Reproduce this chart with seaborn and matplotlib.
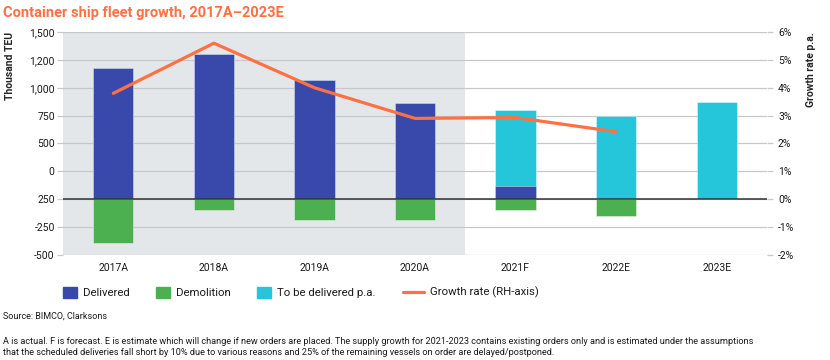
import numpy as np
import seaborn as sns
import matplotlib.pyplot as plt
from matplotlib.patches import Patch
from matplotlib.lines import Line2D

# data (thousand TEU / % p.a.)
years = ['2017A', '2018A', '2019A', '2020A', '2021F', '2022E', '2023E']
delivered = [1180, 1300, 1070, 865, 120, 0, 0]
to_be_delivered = [0, 0, 0, 0, 680, 745, 870]
demolition = [-395, -100, -190, -190, -100, -150, 0]
growth_years = ['2017A', '2018A', '2019A', '2020A', '2021F', '2022E']
growth = [3.8, 5.6, 4.0, 2.9, 2.93, 2.42]

left_ticks = [-500, -250, 0, 250, 500, 750, 1000, 1250, 1500]
# labels exactly as printed on the original chart
left_labels = ['-500', '-250', '250', '0', '500', '750', '1,000', '1,200', '1,500']
right_ticks = [-2, -1, 0, 1, 2, 3, 4, 5, 6]

c_deliv = '#3949AB'
c_demo = '#4CAF50'
c_tbd = '#26C6DA'
c_line = '#FF7043'
c_shade = '#E3E7EA'
c_grid = '#C8C8C8'

sns.set_theme(style='white')
plt.rcParams['font.family'] = ['Roboto', 'DejaVu Sans']
plt.rcParams['text.color'] = '#1a1a1a'

fig = plt.figure(figsize=(8.3, 3.6), dpi=100)
ax = fig.add_axes([0.076, 0.292, 0.848, 0.619])

# actual period shading
ax.axvspan(-0.5, 3.5, color=c_shade, zorder=0, lw=0)

totals = [d + t for d, t in zip(delivered, to_be_delivered)]
bar_kw = dict(width=0.4, edgecolor=(1, 1, 1, 0.4), linewidth=0.7, zorder=2)
sns.barplot(x=years, y=totals, color=c_tbd, ax=ax, saturation=1, **bar_kw)
sns.barplot(x=years, y=delivered, color=c_deliv, ax=ax, saturation=1, **bar_kw)
sns.barplot(x=years, y=demolition, color=c_demo, ax=ax, saturation=1, **bar_kw)

ax.set_xlim(-0.5, 6.5)
ax.set_ylim(-500, 1500)
ax.set_yticks(left_ticks)
ax.set_yticklabels(left_labels)
ax.set_axisbelow(True)
ax.grid(axis='y', color=c_grid, lw=0.9, zorder=0.5)
ax.axhline(0, color='#333333', lw=1.1, zorder=3)
for s in ax.spines.values():
    s.set_visible(False)
ax.tick_params(axis='y', length=4, width=0.9, color=c_grid, labelsize=7.5, pad=2,
               labelcolor='#1a1a1a')
ax.tick_params(axis='x', length=0, labelsize=7.5, pad=6, labelcolor='#1a1a1a')
ax.set_xlabel('')
ax.set_ylabel('Thousand TEU', fontsize=7.5, fontweight='bold', labelpad=10, loc='top')

ax2 = ax.twinx()
sns.lineplot(x=np.arange(len(growth)), y=growth, color=c_line, lw=2.3, ax=ax2, zorder=4)
ax2.set_ylim(-2, 6)
ax2.set_yticks(right_ticks)
ax2.set_yticklabels([f'{v}%' for v in right_ticks])
for s in ax2.spines.values():
    s.set_visible(False)
ax2.tick_params(axis='y', length=4, width=0.9, color=c_grid, labelsize=7.5, pad=4,
                labelcolor='#1a1a1a')
ax2.set_ylabel('Growth rate p.a.', fontsize=7.5, fontweight='bold', labelpad=8, loc='top')
ax2.grid(False)
ax2.set_xlim(-0.5, 6.5)

fig.text(0.004, 0.965, 'Container ship fleet growth, 2017A\u20132023E', fontsize=10.5,
         fontweight='bold', color=c_line, va='center', ha='left')

handles = [Patch(color=c_deliv, label='Delivered'),
           Patch(color=c_demo, label='Demolition'),
           Patch(color=c_tbd, label='To be delivered p.a.')]
leg_kw = dict(loc='center left', frameon=False, fontsize=8.2, handletextpad=0.5,
              borderaxespad=0, borderpad=0)
fig.legend(handles=handles, ncol=3, bbox_to_anchor=(0.076, 0.188), handlelength=1.25,
           handleheight=1.15, columnspacing=2.3, **leg_kw)
fig.legend(handles=[Line2D([], [], color=c_line, lw=2.3, label='Growth rate (RH-axis)')],
           bbox_to_anchor=(0.486, 0.188), handlelength=1.8, **leg_kw)

fig.text(0.004, 0.122, 'Source: BIMCO, Clarksons', fontsize=6.5, va='center')
fig.text(0.004, 0.052, 'A is actual. F is forecast. E is estimate which will change if new orders are placed. '
         'The supply growth for 2021-2023 contains existing orders only and is estimated under the assumptions',
         fontsize=6.55, va='center')
fig.text(0.004, 0.02, 'that the scheduled deliveries fall short by 10% due to various reasons and 25% of the '
         'remaining vessels on order are delayed/postponed.', fontsize=6.55, va='center')

fig.savefig('out.png', dpi=100)
